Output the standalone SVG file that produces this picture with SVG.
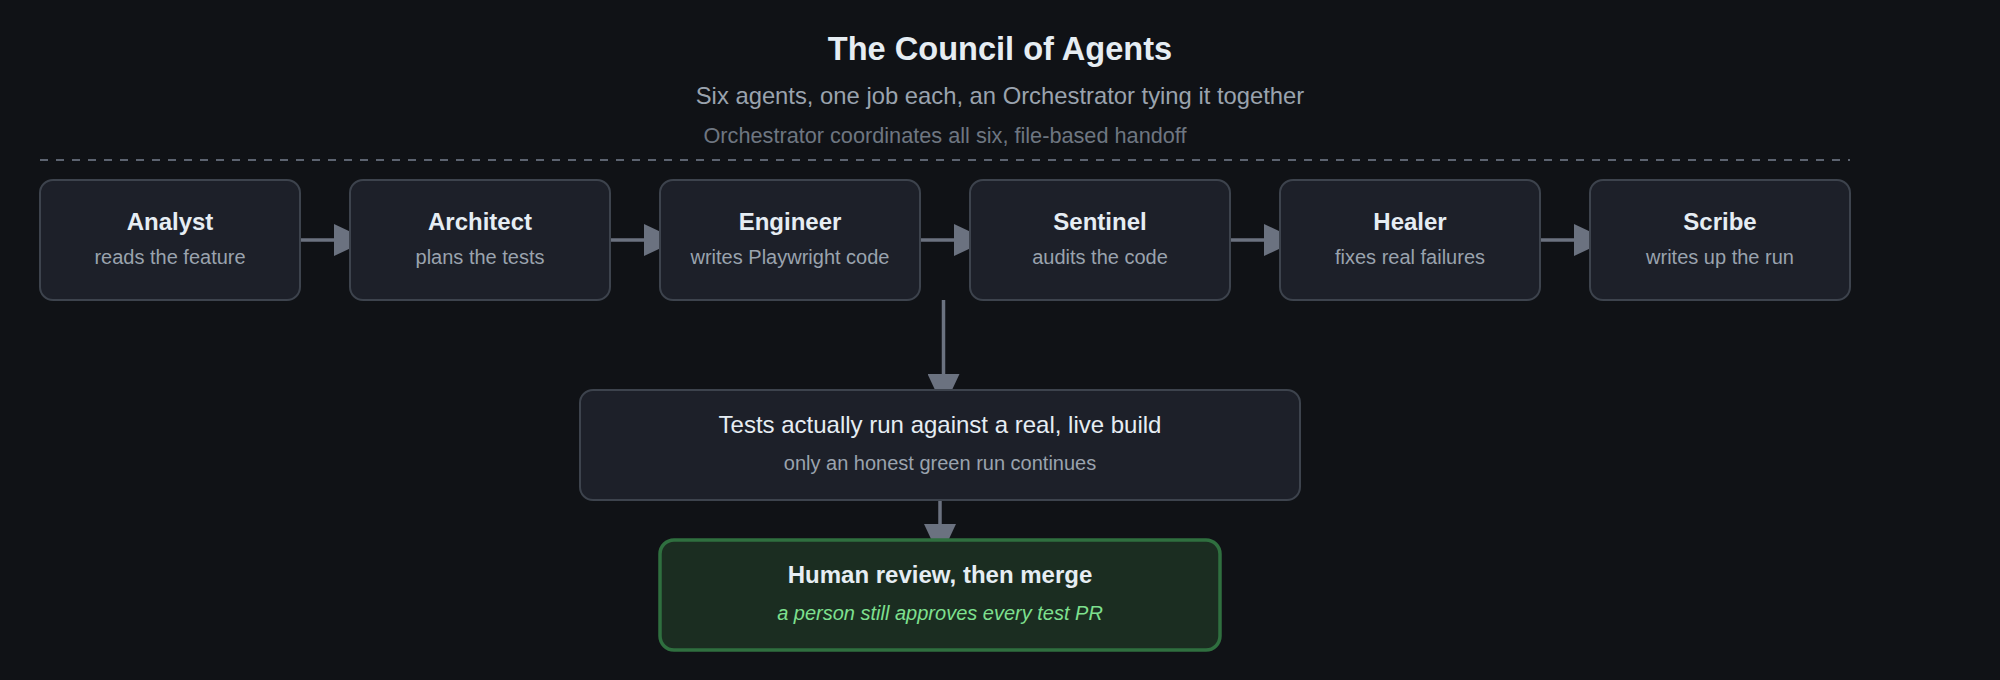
<svg xmlns="http://www.w3.org/2000/svg" width="2000" height="680" viewBox="0 0 2000 680">
<style>
text{font-family:"Liberation Sans",Arial,sans-serif;text-anchor:middle}
.title{font-size:32.6px;font-weight:bold;fill:#e6edf3}
.sub{font-size:23.8px;fill:#9aa3ae}
.note{font-size:21.7px;fill:#6e7681}
.node rect{fill:#1d2029;stroke:#3d434d;stroke-width:2}
.nt{font-size:24px;font-weight:bold;fill:#e6edf3}
.ns{font-size:20px;fill:#9aa3ae}
.mt{font-size:24px;fill:#e6edf3}
.edge{stroke:#6b7280;stroke-width:3.5;fill:none;marker-end:url(#arr)}
.green rect{fill:#1b2d21;stroke:#2f6f3f;stroke-width:3.5}
.gs{font-size:20px;font-style:italic;fill:#7ee08f}
</style>
<defs>
<marker id="arr" viewBox="0 0 34 32" markerUnits="userSpaceOnUse" markerWidth="34" markerHeight="32" refX="16" refY="16" orient="auto">
<path d="M0,0 L34,16 L0,32 z" fill="#6b7280"/>
</marker>
</defs>
<rect width="2000" height="680" fill="#101216"/>
<text class="title" x="1000" y="60">The Council of Agents</text>
<text class="sub" x="1000" y="104">Six agents, one job each, an Orchestrator tying it together</text>
<text class="note" x="945" y="143">Orchestrator coordinates all six, file-based handoff</text>
<line x1="40" y1="160" x2="1850" y2="160" stroke="#5c6370" stroke-width="2" stroke-dasharray="8 8"/>
<g id="connectors">
<line class="edge" x1="300" y1="240" x2="350" y2="240"/>
<line class="edge" x1="610" y1="240" x2="660" y2="240"/>
<line class="edge" x1="920" y1="240" x2="970" y2="240"/>
<line class="edge" x1="1230" y1="240" x2="1280" y2="240"/>
<line class="edge" x1="1540" y1="240" x2="1590" y2="240"/>
<line class="edge" x1="943.5" y1="300" x2="943.5" y2="390"/>
<line class="edge" x1="940" y1="500" x2="940" y2="540"/>
</g>
<g id="analyst" class="node"><rect x="40" y="180" width="260" height="120" rx="13"/><text class="nt" x="170" y="230">Analyst</text><text class="ns" x="170" y="264">reads the feature</text></g>
<g id="architect" class="node"><rect x="350" y="180" width="260" height="120" rx="13"/><text class="nt" x="480" y="230">Architect</text><text class="ns" x="480" y="264">plans the tests</text></g>
<g id="engineer" class="node"><rect x="660" y="180" width="260" height="120" rx="13"/><text class="nt" x="790" y="230">Engineer</text><text class="ns" x="790" y="264">writes Playwright code</text></g>
<g id="sentinel" class="node"><rect x="970" y="180" width="260" height="120" rx="13"/><text class="nt" x="1100" y="230">Sentinel</text><text class="ns" x="1100" y="264">audits the code</text></g>
<g id="healer" class="node"><rect x="1280" y="180" width="260" height="120" rx="13"/><text class="nt" x="1410" y="230">Healer</text><text class="ns" x="1410" y="264">fixes real failures</text></g>
<g id="scribe" class="node"><rect x="1590" y="180" width="260" height="120" rx="13"/><text class="nt" x="1720" y="230">Scribe</text><text class="ns" x="1720" y="264">writes up the run</text></g>
<g id="run" class="node"><rect x="580" y="390" width="720" height="110" rx="13"/><text class="mt" x="940" y="433">Tests actually run against a real, live build</text><text class="ns" x="940" y="470">only an honest green run continues</text></g>
<g id="review" class="green"><rect x="660" y="540" width="560" height="110" rx="14"/><text class="nt" x="940" y="583">Human review, then merge</text><text class="gs" x="940" y="620">a person still approves every test PR</text></g>
</svg>
